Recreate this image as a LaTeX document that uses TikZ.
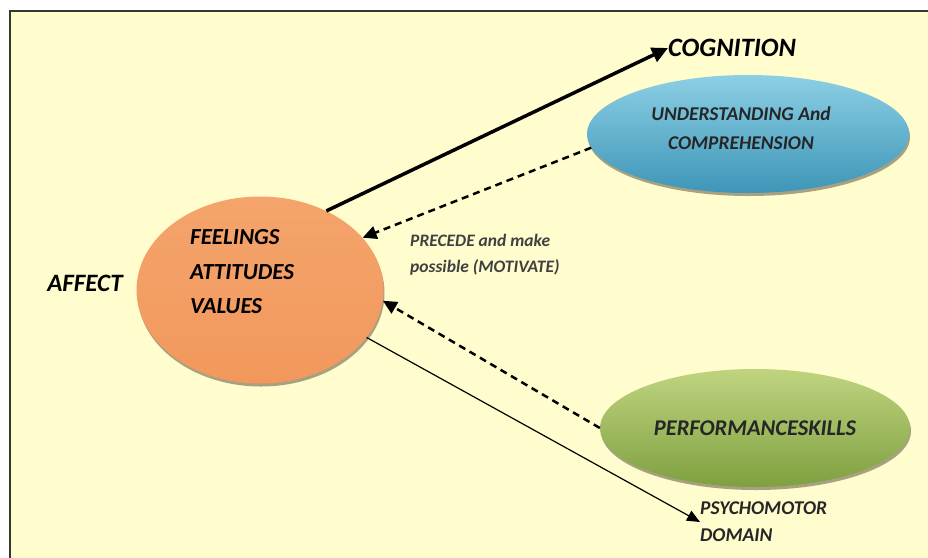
\documentclass[tikz,border=0pt]{standalone}
\usepackage{fontspec}
\setmainfont{Carlito}
\usetikzlibrary{shapes.geometric,arrows.meta,shadows}

\definecolor{paper}{RGB}{255,252,205}
\definecolor{frameline}{RGB}{55,55,50}
\definecolor{orangetop}{RGB}{244,164,108}
\definecolor{orangemid}{RGB}{237,128,56}
\definecolor{orangebot}{RGB}{242,152,92}
\definecolor{bluetop}{RGB}{140,207,228}
\definecolor{bluemid}{RGB}{86,176,207}
\definecolor{bluebot}{RGB}{62,150,184}
\definecolor{greentop}{RGB}{192,212,128}
\definecolor{greenmid}{RGB}{160,192,96}
\definecolor{greenbot}{RGB}{126,160,64}

\tikzset{
  blob/.style={ellipse, inner sep=0pt,
    drop shadow={shadow xshift=1pt, shadow yshift=-3pt, opacity=0.4, fill=black!80!brown}},
  bigtxt/.style={font=\fontsize{25}{30}\selectfont\bfseries\itshape, inner sep=0pt},
  midtxt/.style={font=\fontsize{19.5}{29}\selectfont\bfseries\itshape, text=black!85, inner sep=0pt},
  smalltxt/.style={font=\fontsize{17.5}{26}\selectfont\bfseries\itshape, text=black!75, inner sep=0pt},
  dasharrow/.style={line width=2.5pt, dash pattern=on 7pt off 5pt,
    -{Triangle[length=14pt,width=13pt]}},
}

\begin{document}
\begin{tikzpicture}[x=1pt,y=-1pt]
  \useasboundingbox (0,0) rectangle (928,557);
  \fill[white] (0,0) rectangle (928,557);
  \clip (0,0) rectangle (928,557);
  \draw[frameline, line width=2pt, fill=paper] (10,11) rectangle (945,575);

  % the three domains
  \node[blob, minimum width=247pt, minimum height=187pt,
        top color=orangetop, middle color=orangemid, bottom color=orangebot] (aff) at (260,290) {};
  \node[blob, minimum width=322pt, minimum height=118pt,
        top color=bluetop, middle color=bluemid, bottom color=bluebot] (und) at (748,134) {};
  \node[blob, minimum width=310pt, minimum height=118pt,
        top color=greentop, middle color=greenmid, bottom color=greenbot, midtxt,
        font=\fontsize{22.5}{24}\selectfont\bfseries\itshape] (perf) at (755,428) {PERFORMANCESKILLS};

  % texts
  \node[bigtxt] (affect) at (85,283) {AFFECT};
  \node[bigtxt, font=\fontsize{23}{34.5}\selectfont\bfseries\itshape, align=left, anchor=west] (feel) at (190,272)
    {FEELINGS\\ATTITUDES\\VALUES};
  \node[bigtxt, font=\fontsize{26.5}{30}\selectfont\bfseries\itshape, anchor=west] (cog) at (668,48) {COGNITION};
  \node[midtxt, align=center] (undtxt) at (741,128) {UNDERSTANDING And\\COMPREHENSION};
  \node[smalltxt, align=left, anchor=west] (prec) at (410,255) {PRECEDE and make\\possible (MOTIVATE)};
  \node[midtxt, font=\fontsize{19.5}{27}\selectfont\bfseries\itshape, align=left, anchor=west] (psy) at (700,522)
    {PSYCHOMOTOR\\DOMAIN};

  % connectors
  \draw[line width=3.5pt, -{Triangle[length=16pt,width=15pt]}] (aff.50) -- (cog.west);
  \draw[dasharrow] (und.185) -- (aff.27);
  \draw[dasharrow] (perf.180) -- (aff.355);
  \draw[line width=1.2pt, -{Triangle[length=13pt,width=11pt]}] (aff.336) -- (psy.west);
\end{tikzpicture}
\end{document}
